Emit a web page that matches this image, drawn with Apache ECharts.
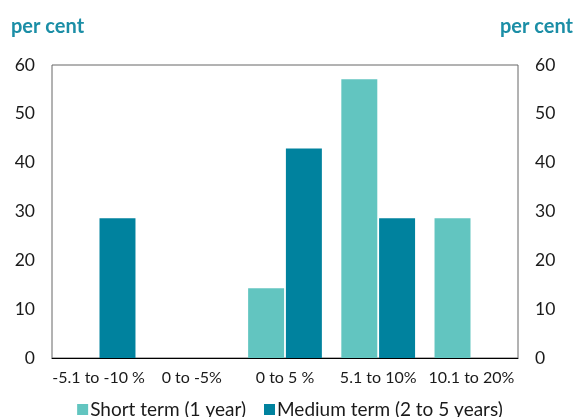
<!DOCTYPE html>
<html lang="en">
<head>
    <meta charset="UTF-8">
    <title>per cent</title>
    <script src="https://cdn.jsdelivr.net/npm/echarts@6/dist/echarts.min.js"></script>
    <style>
        body{margin:0;background:#fff;}
    </style>
</head>
<body>
    <div id="chart1" style="width:580px;height:417px;"></div>
    <script>
        var categories=["-5.1 to -10 %","0 to -5%","0 to 5 %","5.1 to 10%","10.1 to 20%"]
        var shortTerm=[0,0,14.3,57.1,28.6]
        var mediumTerm=[28.6,0,42.9,28.6,0]
        var yTicks=[0,10,20,30,40,50,60]

        var myCharts=echarts.init(document.getElementById("chart1"))
        var labelStyle={color:"#1a1a1a",fontSize:16,fontFamily:"Lato"}
        var numStyle={color:"#1a1a1a",fontSize:17.5,fontFamily:"Lato"}
        var titleStyle={color:"#1b8ea6",fontSize:20,fontWeight:"bold",fontFamily:"Lato"}
        var option={
            animation:false,
            textStyle:{fontFamily:"Lato"},
            title:[
                {text:"per cent",left:6,top:12,textStyle:titleStyle},
                {text:"per cent",right:2,top:12,textStyle:titleStyle}
            ],
            grid:{left:52,right:62,top:65,bottom:59,show:true,borderColor:"#666",borderWidth:1},
            legend:{
                bottom:-7,
                left:"center",
                itemWidth:11,
                itemHeight:11,
                itemGap:18,
                itemStyle:{borderWidth:0},
                icon:"rect",
                textStyle:{color:"#1a1a1a",fontSize:19,fontFamily:"Lato",padding:[0,0,0,-3]},
                data:["Short term (1 year)","Medium term (2 to 5 years)"]
            },
            xAxis:{
                type:"category",
                data:categories,
                axisTick:{show:false},
                axisLine:{lineStyle:{color:"#000"}},
                axisLabel:Object.assign({margin:12,interval:0},labelStyle)
            },
            yAxis:[
                {type:"value",min:yTicks[0],max:yTicks[yTicks.length-1],interval:10,position:"left",
                 splitLine:{show:false},axisLine:{show:false},axisTick:{show:false},
                 axisLabel:Object.assign({margin:17},numStyle)},
                {type:"value",min:yTicks[0],max:yTicks[yTicks.length-1],interval:10,position:"right",
                 splitLine:{show:false},axisLine:{show:false},axisTick:{show:false},
                 axisLabel:Object.assign({margin:17,align:"left"},numStyle)}
            ],
            series:[
                {name:"Short term (1 year)",type:"bar",data:shortTerm,barWidth:"38.6%",barGap:"5%",
                 itemStyle:{color:"#62c5c0"}},
                {name:"Medium term (2 to 5 years)",type:"bar",data:mediumTerm,barWidth:"38.6%",
                 itemStyle:{color:"#00829e"}}
            ]
        }
        myCharts.setOption(option)
    </script>
</body>
</html>
